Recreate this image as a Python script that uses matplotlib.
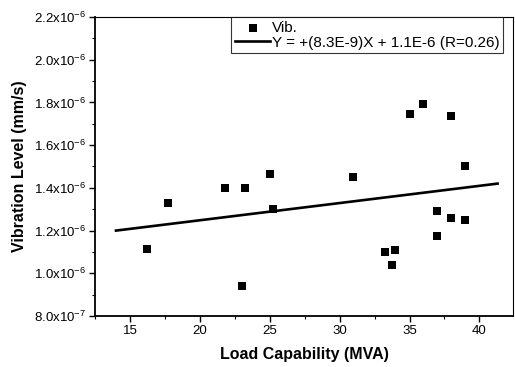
import numpy as np
import matplotlib.pyplot as plt
from matplotlib.ticker import MultipleLocator, FuncFormatter

# data
load_mva = [16.2, 17.7, 21.8, 23.2, 23.0, 25.0, 25.25, 30.97, 35.0, 35.95,
            37.95, 39.0, 37.0, 38.0, 39.0, 37.0, 33.27, 33.98, 33.75]
vib_level = [1.112e-6, 1.331e-6, 1.398e-6, 1.400e-6, 0.940e-6, 1.464e-6,
             1.303e-6, 1.450e-6, 1.745e-6, 1.793e-6, 1.737e-6, 1.501e-6,
             1.292e-6, 1.260e-6, 1.250e-6, 1.176e-6, 1.100e-6, 1.110e-6,
             1.039e-6]
fit_slope = 8.06e-9
fit_intercept = 1.087e-6
fit_range = [14.0, 41.3]
fit_label = 'Y = +(8.3E-9)X + 1.1E-6 (R=0.26)'

plt.rcParams['font.family'] = ['Liberation Sans', 'DejaVu Sans']
plt.rcParams['mathtext.fontset'] = 'custom'
plt.rcParams['mathtext.rm'] = 'Liberation Sans'
plt.rcParams['mathtext.it'] = 'Liberation Sans'

fig = plt.figure(figsize=(5.15, 3.67), dpi=100)
ax = fig.add_axes([0.1845, 0.139, 0.8115, 0.8147])

ax.scatter(load_mva, vib_level, marker='s', s=28, color='black',
           linewidths=0, label='Vib.', zorder=3)
fx = np.array(fit_range)
ax.plot(fx, fit_slope * fx + fit_intercept, color='black', lw=1.9,
        label=fit_label)

ax.set_xlim(12.5, 42.4)
ax.set_ylim(0.8e-6, 2.2e-6)
ax.xaxis.set_major_locator(MultipleLocator(5))
ax.xaxis.set_minor_locator(MultipleLocator(2.5))
ax.yaxis.set_major_locator(MultipleLocator(0.2e-6))
ax.yaxis.set_minor_locator(MultipleLocator(0.1e-6))


def sci_fmt(v, pos):
    if v == 0:
        return '0'
    e = int(np.floor(np.log10(abs(v)) + 1e-9))
    m = v / 10 ** e
    return r'$\mathregular{%.1fx10^{%d}}$' % (m, e)


ax.yaxis.set_major_formatter(FuncFormatter(sci_fmt))
ax.tick_params(which='major', direction='out', length=4, width=1,
               labelsize=9.5, pad=2.5)
ax.tick_params(which='minor', direction='out', length=2, width=0.8)

for s in ['left', 'bottom']:
    ax.spines[s].set_linewidth(1.3)
for s in ['top', 'right']:
    ax.spines[s].set_linewidth(0.8)

ax.set_xlabel('Load Capability (MVA)', fontsize=11.5, fontweight='bold',
              labelpad=7)
ax.set_ylabel('Vibration Level (mm/s)', fontsize=11.5, fontweight='bold',
              labelpad=5)

leg = ax.legend(loc='upper right', bbox_to_anchor=(0.977, 1.0),
                fontsize=11, frameon=True, fancybox=False,
                edgecolor='black', borderaxespad=0, handlelength=2.3,
                handletextpad=0.1, borderpad=0.25, labelspacing=0.05,
                markerscale=1.0)
leg.get_frame().set_linewidth(0.8)

fig.savefig('out.png', dpi=100)
